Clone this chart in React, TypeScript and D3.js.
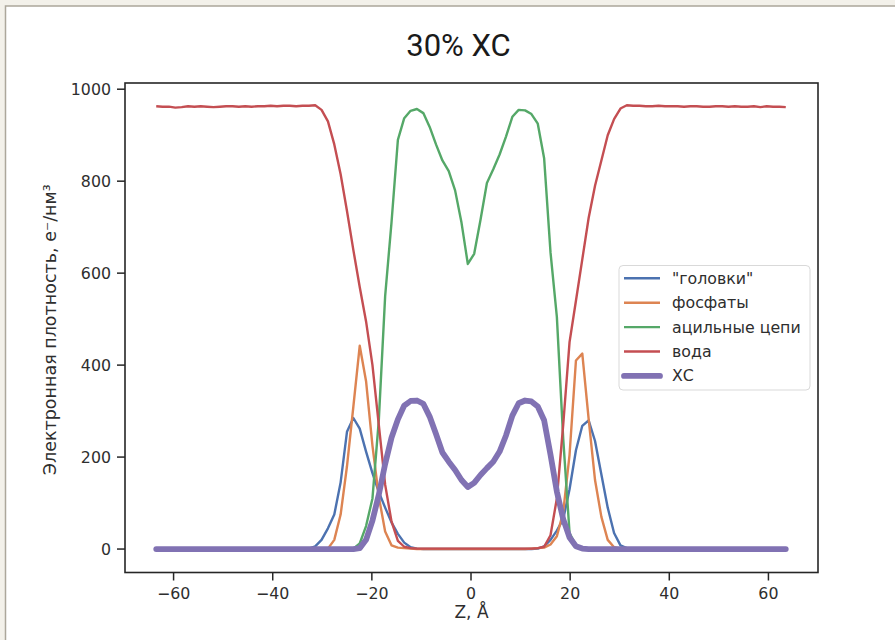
import React from "react";
import * as d3 from "d3";

const zValues = [
  -63.5, -62.22, -60.93, -59.65, -58.37, -57.09, -55.8, -54.52, -53.24, -51.95,
  -50.67, -49.39, -48.11, -46.82, -45.54, -44.26, -42.97, -41.69, -40.41, -39.13,
  -37.84, -36.56, -35.28, -33.99, -32.71, -31.43, -30.15, -28.86, -27.58, -26.3,
  -25.02, -23.73, -22.45, -21.17, -19.88, -18.6, -17.32, -16.04, -14.75, -13.47,
  -12.19, -10.91, -9.62, -8.34, -7.06, -5.77, -4.49, -3.21, -1.92, -0.64,
  0.64, 1.92, 3.21, 4.49, 5.77, 7.06, 8.34, 9.62, 10.91, 12.19,
  13.47, 14.75, 16.04, 17.32, 18.6, 19.88, 21.17, 22.45, 23.73, 25.02,
  26.3, 27.58, 28.86, 30.15, 31.43, 32.71, 33.99, 35.28, 36.56, 37.84,
  39.13, 40.41, 41.69, 42.97, 44.26, 45.54, 46.82, 48.11, 49.39, 50.67,
  51.95, 53.24, 54.52, 55.8, 57.09, 58.37, 59.65, 60.93, 62.22, 63.5,
];

const heads = [
  0, 0, 0, 0, 0, 0, 0, 0, 0, 0,
  0, 0, 0, 0, 0, 0, 0, 0, 0, 0,
  0, 0, 0, 0, 1, 6, 20, 45, 75, 145,
  255, 285, 262, 212, 165, 124, 90, 58, 33, 14,
  4, 1, 0, 0, 0, 0, 0, 0, 0, 0,
  0, 0, 0, 0, 0, 0, 0, 0, 0, 0,
  1, 6, 20, 40, 65, 130, 215, 268, 280, 235,
  162, 90, 35, 8, 2, 0, 0, 0, 0, 0,
  0, 0, 0, 0, 0, 0, 0, 0, 0, 0,
  0, 0, 0, 0, 0, 0, 0, 0, 0, 0,
];

const phosphates = [
  0, 0, 0, 0, 0, 0, 0, 0, 0, 0,
  0, 0, 0, 0, 0, 0, 0, 0, 0, 0,
  0, 0, 0, 0, 0, 0, 0, 1, 20, 75,
  180, 310, 442, 365, 225, 114, 38, 8, 3, 2,
  1, 0, 0, 0, 0, 0, 0, 0, 0, 0,
  0, 0, 0, 0, 0, 0, 0, 0, 0, 1,
  2, 3, 10, 28, 80, 205, 410, 425, 283, 150,
  70, 20, 4, 1, 0, 0, 0, 0, 0, 0,
  0, 0, 0, 0, 0, 0, 0, 0, 0, 0,
  0, 0, 0, 0, 0, 0, 0, 0, 0, 0,
];

const acyl = [
  0, 0, 0, 0, 0, 0, 0, 0, 0, 0,
  0, 0, 0, 0, 0, 0, 0, 0, 0, 0,
  0, 0, 0, 0, 0, 0, 0, 0, 0, 0,
  0, 1, 12, 50, 110, 280, 550, 710, 890, 937,
  953, 957, 948, 918, 880, 845, 822, 780, 710, 620,
  642, 716, 796, 826, 858, 897, 940, 955, 954, 946,
  925, 850, 645, 505, 240, 35, 8, 2, 0, 0,
  0, 0, 0, 0, 0, 0, 0, 0, 0, 0,
  0, 0, 0, 0, 0, 0, 0, 0, 0, 0,
  0, 0, 0, 0, 0, 0, 0, 0, 0, 0,
];

const water = [
  963, 962, 962, 960, 961, 963, 962, 963, 962, 961,
  962, 963, 963, 962, 963, 962, 963, 963, 964, 963,
  964, 964, 963, 964, 964, 965, 955, 930, 880, 815,
  735, 650, 570, 495, 400, 270, 140, 60, 18, 5,
  2, 1, 1, 1, 1, 1, 1, 1, 1, 1,
  1, 1, 1, 1, 1, 1, 1, 1, 1, 1,
  2, 5, 30, 110, 270, 450, 540, 630, 720, 790,
  845, 900, 935, 958, 965, 964, 964, 963, 963, 964,
  963, 963, 963, 962, 963, 963, 962, 962, 963, 963,
  962, 963, 962, 962, 963, 961, 963, 962, 962, 961,
];

const cholesterol = [
  0, 0, 0, 0, 0, 0, 0, 0, 0, 0,
  0, 0, 0, 0, 0, 0, 0, 0, 0, 0,
  0, 0, 0, 0, 0, 0, 0, 0, 0, 0,
  0, 0, 2, 20, 62, 118, 185, 242, 282, 312,
  322, 323, 316, 288, 250, 210, 190, 172, 150, 135,
  144, 161, 176, 190, 212, 247, 290, 317, 323, 321,
  310, 280, 205, 125, 65, 25, 6, 1, 0, 0,
  0, 0, 0, 0, 0, 0, 0, 0, 0, 0,
  0, 0, 0, 0, 0, 0, 0, 0, 0, 0,
  0, 0, 0, 0, 0, 0, 0, 0, 0, 0,
];

const seriesNames = ['"головки"', "фосфаты", "ацильные цепи", "вода", "ХС"];
const seriesColors = ["#4c72b0", "#dd8452", "#55a868", "#c44e52", "#8172b3"];
const seriesWidths = [2.4, 2.4, 2.4, 2.4, 5.8];
const xTicks = [-60, -40, -20, 0, 20, 40, 60];
const yTicks = [0, 200, 400, 600, 800, 1000];

const titleText = "30% ХС";
const xLabel = "Z, Å";
const yLabel = "Электронная плотность, e⁻/нм³";

const W = 895;
const H = 640;
const L = 125;
const R = 818;
const T = 83;
const B = 572.5;

export default function App() {
  React.useEffect(() => {
    document.body.style.margin = "0";
  }, []);

  const x = d3.scaleLinear().domain([-69.8, 70]).range([L, R]);
  const y = d3.scaleLinear().domain([-51, 1013.5]).range([B, T]);
  const allSeries = [heads, phosphates, acyl, water, cholesterol];

  const line = (vals: number[]) =>
    d3
      .line<number>()
      .x((_, i) => x(zValues[i]))
      .y((d) => y(d))(vals) || "";

  const font = "'DejaVu Sans', sans-serif";
  const textColor = "#2e2e2e";
  const legX = 619;
  const legY = 265.5;
  const rowH = 24.4;

  return (
    <svg
      width={W}
      height={H}
      style={{ position: "absolute", left: 0, top: 0, display: "block" }}
    >
      <rect x={0} y={0} width={W} height={H} fill="#f3f1ea" />
      <rect
        x={5.5}
        y={6}
        width={W + 10}
        height={H + 10}
        fill="#ffffff"
        stroke="#aca79b"
        strokeWidth={1.5}
      />
      <text
        x={458.5}
        y={45}
        textAnchor="middle"
        dominantBaseline="central"
        fontFamily="Roboto, sans-serif"
        fontSize={31}
        fill="#1a1a1a"
      >
        {titleText}
      </text>

      <defs>
        <clipPath id="plotclip">
          <rect x={L} y={T} width={R - L} height={B - T} />
        </clipPath>
      </defs>

      <g clipPath="url(#plotclip)">
        {allSeries.map((vals, k) => (
          <path
            key={k}
            d={line(vals)}
            fill="none"
            stroke={seriesColors[k]}
            strokeWidth={seriesWidths[k]}
            strokeLinejoin="round"
            strokeLinecap={k === 4 ? "round" : "butt"}
          />
        ))}
      </g>

      <rect
        x={L}
        y={T}
        width={R - L}
        height={B - T}
        fill="none"
        stroke="#262626"
        strokeWidth={1.6}
      />

      {xTicks.map((t) => (
        <g key={"x" + t}>
          <line
            x1={x(t)}
            x2={x(t)}
            y1={B}
            y2={B + 8}
            stroke="#262626"
            strokeWidth={1.5}
          />
          <text
            x={x(t)}
            y={B + 21}
            textAnchor="middle"
            dominantBaseline="central"
            fontFamily={font}
            fontSize={15.8}
            fill={textColor}
          >
            {t < 0 ? "\u2212" + Math.abs(t) : String(t)}
          </text>
        </g>
      ))}

      {yTicks.map((t) => (
        <g key={"y" + t}>
          <line
            x1={L - 8}
            x2={L}
            y1={y(t)}
            y2={y(t)}
            stroke="#262626"
            strokeWidth={1.5}
          />
          <text
            x={L - 14}
            y={y(t)}
            textAnchor="end"
            dominantBaseline="central"
            fontFamily={font}
            fontSize={15.8}
            fill={textColor}
          >
            {String(t)}
          </text>
        </g>
      ))}

      <text
        x={(L + R) / 2}
        y={612}
        textAnchor="middle"
        dominantBaseline="central"
        fontFamily={font}
        fontSize={17}
        fill={textColor}
      >
        {xLabel}
      </text>
      <text
        transform={`translate(50, ${(T + B) / 2 + 2}) rotate(-90)`}
        textAnchor="middle"
        dominantBaseline="central"
        fontFamily={font}
        fontSize={17.5}
        fill={textColor}
      >
        {yLabel}
      </text>

      <rect
        x={legX}
        y={legY}
        width={191}
        height={124.5}
        rx={4}
        fill="#ffffff"
        fillOpacity={0.8}
        stroke="#d9d9d9"
        strokeWidth={1}
      />
      {seriesNames.map((name, k) => {
        const cy = legY + 12.8 + k * rowH;
        return (
          <g key={"leg" + k}>
            <line
              x1={624}
              x2={660}
              y1={cy}
              y2={cy}
              stroke={seriesColors[k]}
              strokeWidth={seriesWidths[k]}
              strokeLinecap={k === 4 ? "round" : "butt"}
            />
            <text
              x={672}
              y={cy}
              dominantBaseline="central"
              fontFamily={font}
              fontSize={15.8}
              fill={textColor}
            >
              {name}
            </text>
          </g>
        );
      })}
    </svg>
  );
}
